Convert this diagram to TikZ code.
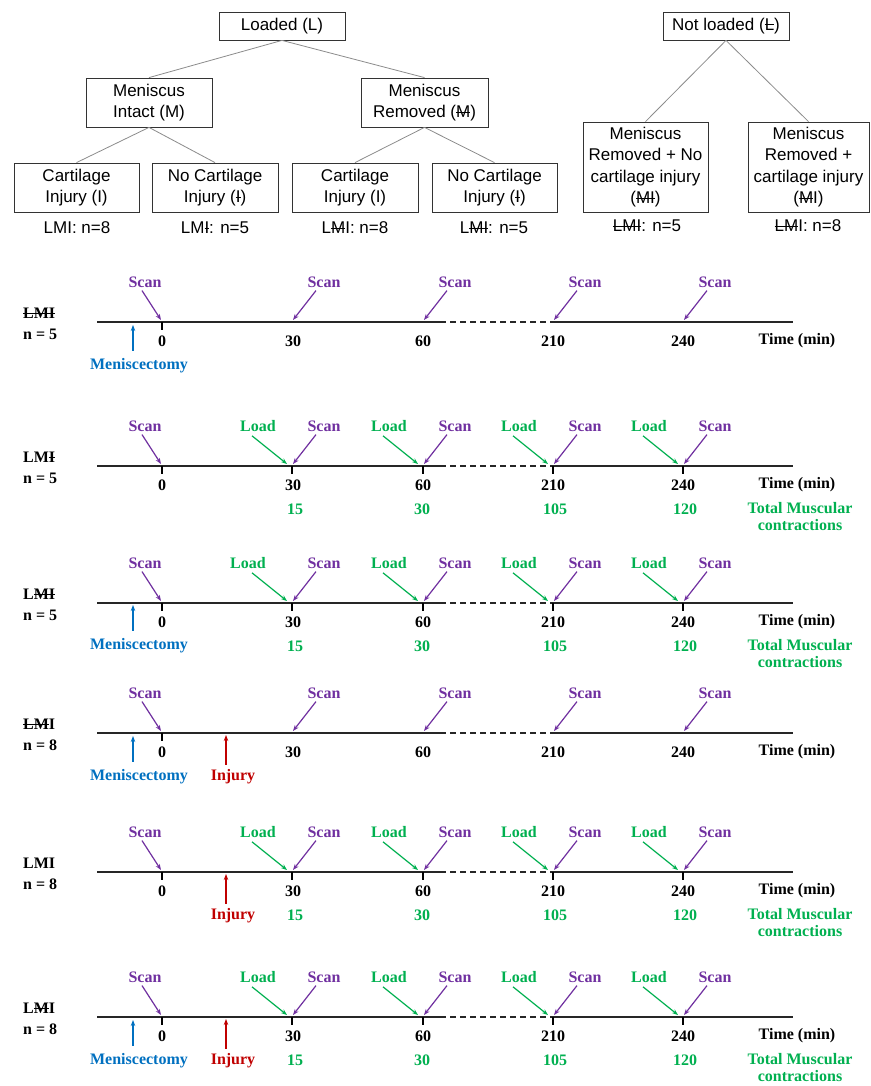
\documentclass[tikz,border=0pt]{standalone}
\usepackage{fontspec}
\setmainfont{Liberation Serif}
\newfontfamily\arialf{Liberation Sans}
\usetikzlibrary{arrows.meta}
\definecolor{scanc}{HTML}{7030A0}
\definecolor{loadc}{HTML}{00B050}
\definecolor{menc}{HTML}{0070C0}
\definecolor{injc}{HTML}{C00000}
\newsavebox\stkbox
\newcommand\stk[1]{\sbox\stkbox{#1}\rlap{\rule[0.42\ht\stkbox]{\wd\stkbox}{0.07em}}\usebox\stkbox}
\tikzset{
 tbox/.style={draw=black!80, line width=0.8pt, minimum width=126, align=center, inner sep=0pt, font=\arialf\fontsize{17}{21.5}\selectfont},
 tlab/.style={inner sep=0pt, font=\arialf\fontsize{17}{20}\selectfont},
 tedge/.style={draw=black!45, line width=0.8pt},
 tline/.style={line width=1.5pt, draw=black!85},
 tickm/.style={line width=2pt, draw=black},
 lbl/.style={inner sep=0pt, font=\bfseries\fontsize{16}{17}\selectfont},
 scanl/.style={lbl, text=scanc},
 loadl/.style={lbl, text=loadc},
 menl/.style={lbl, text=menc},
 injl/.style={lbl, text=injc},
 numl/.style={lbl, text=black},
 rowl/.style={lbl, text=black, anchor=west},
 arr/.style={line width=1.2pt, -{Stealth[length=6pt,width=4.5pt]}},
 scanarr/.style={arr, draw=scanc},
 loadarr/.style={arr, draw=loadc},
 menarr/.style={arr, draw=menc},
 injarr/.style={arr, draw=injc},
}
% base time line
\newcommand\tlbase[2]{%
 \coordinate (#1a) at (97,#2); \coordinate (#1b) at (440,#2);
 \coordinate (#1c) at (553,#2); \coordinate (#1d) at (793,#2);
 \draw[tline] (#1a) -- (#1b);
 \draw[tline, dash pattern=on 6pt off 4pt] (#1b) -- (#1c);
 \draw[tline] (#1c) -- (#1d);
 \node[numl] (#1n0) at (162,#2+19) {0};
 \node[numl] (#1n1) at (293,#2+19) {30};
 \node[numl] (#1n2) at (423,#2+19) {60};
 \node[numl] (#1n3) at (553,#2+19) {210};
 \node[numl] (#1n4) at (683,#2+19) {240};
 \node[numl] (#1tm) at (797,#2+19) {Time (min)};
 \draw[tickm] (162,#2) -- (162,#2+8);
 \node[scanl] (#1s0) at (145,#2-40) {Scan};
 \coordinate (#1s0h) at (161,#2-2);
 \draw[scanarr] ([xshift=-3pt,yshift=-3pt]#1s0.south) -- (#1s0h);
}
\newcommand\scanat[4]{%
 \node[scanl] (#1s#2) at (#3+32,#4-40) {Scan};
 \coordinate (#1s#2h) at (#3+1,#4-2);
 \draw[scanarr] ([xshift=-8pt,yshift=-3pt]#1s#2.south) -- (#1s#2h);
}
\newcommand\loadat[5]{%
 \node[loadl] (#1l#2) at (#3-34+#5,#4-40) {Load};
 \coordinate (#1l#2h) at (#3-5,#4-2);
 \draw[loadarr] ([xshift=-6pt-#5,yshift=-4pt]#1l#2.south) -- (#1l#2h);
 \draw[tickm] (#3,#4) -- (#3,#4+8);
}
\newcommand\scanrow[2]{%
 \scanat{#1}{1}{292}{#2}\scanat{#1}{2}{423}{#2}\scanat{#1}{3}{553}{#2}\scanat{#1}{4}{683}{#2}}
\newcommand\loadrow[3]{%
 \scanrow{#1}{#2}%
 \loadat{#1}{1}{292}{#2}{#3}\loadat{#1}{2}{423}{#2}{0}\loadat{#1}{3}{553}{#2}{0}\loadat{#1}{4}{683}{#2}{0}%
 \node[loadl] (#1c1) at (295,#2+43) {15};
 \node[loadl] (#1c2) at (422,#2+43) {30};
 \node[loadl] (#1c3) at (555,#2+43) {105};
 \node[loadl] (#1c4) at (685,#2+43) {120};
 \node[loadl, align=center] (#1tc) at (800,#2+51) {Total Muscular\\contractions};
}
\newcommand\menis[2]{%
 \node[menl] (#1m) at (139,#2+44) {Meniscectomy};
 \coordinate (#1mh) at (133,#2+3);
 \draw[menarr] ([xshift=-6pt,yshift=8pt]#1m.north) -- (#1mh);
}
\newcommand\injury[2]{%
 \node[injl] (#1i) at (233,#2+44) {Injury};
 \coordinate (#1ih) at (226,#2+2);
 \draw[injarr] ([xshift=-7pt,yshift=5pt]#1i.north) -- (#1ih);
}
\newcommand\rowlabel[4]{%
 \node[rowl] (#1grp) at (23,#2-9) {#3};
 \node[rowl] (#1cnt) at (23,#2+12) {n = #4};
}
\begin{document}
\begin{tikzpicture}[x=1pt,y=-1pt]
\useasboundingbox[fill=white] (0,0) rectangle (870,1086);
% ---------- tree ----------
\node[tbox, minimum height=28] (L) at (282,26) {Loaded (L)};
\node[tbox, minimum height=49] (M) at (149,102.5) {Meniscus\\Intact (M)};
\node[tbox, minimum height=49, minimum width=127] (Mr) at (424.5,102.5) {Meniscus\\Removed (\stk{M})};
\node[tbox, minimum height=49, minimum width=125] (I1) at (76.5,187.5) {Cartilage\\Injury (I)};
\node[tbox, minimum height=49] (I2) at (215,187.5) {No Cartilage\\Injury (\stk{I})};
\node[tbox, minimum height=49] (I3) at (355,187.5) {Cartilage\\Injury (I)};
\node[tbox, minimum height=49, minimum width=125] (I4) at (494.5,187.5) {No Cartilage\\Injury (\stk{I})};
\node[tbox, minimum height=28] (NL) at (726,26) {Not loaded (\stk{L})};
\node[tbox, minimum height=90, minimum width=125] (N1) at (645.5,167) {Meniscus\\Removed + No\\cartilage injury\\(\stk{MI})};
\node[tbox, minimum height=90, minimum width=121] (N2) at (808.5,167) {Meniscus\\Removed +\\cartilage injury\\(\stk{M}I)};
\draw[tedge] (L.south) -- (M.north);
\draw[tedge] (L.south) -- (Mr.north);
\draw[tedge] (M.south) -- (I1.north);
\draw[tedge] (M.south) -- (I2.north);
\draw[tedge] (Mr.south) -- (I3.north);
\draw[tedge] (Mr.south) -- (I4.north);
\draw[tedge] (NL.south) -- (N1.north);
\draw[tedge] (NL.south) -- (N2.north);
\node[tlab] (c1) at (77,228) {LMI: n=8};
\node[tlab] (c2) at (215,228) {LM\stk{I}: n=5};
\node[tlab] (c3) at (355,228) {L\stk{M}I: n=8};
\node[tlab] (c4) at (494,228) {L\stk{MI}: n=5};
\node[tlab] (c5) at (647,226) {\stk{LMI}: n=5};
\node[tlab] (c6) at (808,226) {\stk{LM}I: n=8};
% ---------- row A ----------
\tlbase{A}{322}
\scanrow{A}{322}
\menis{A}{322}
\rowlabel{A}{322}{\stk{LMI}}{5}
% ---------- row B ----------
\tlbase{B}{466}
\loadrow{B}{466}{0}
\rowlabel{B}{466}{LM\stk{I}}{5}
% ---------- row C ----------
\tlbase{C}{603}
\loadrow{C}{603}{-10}
\menis{C}{602}
\rowlabel{C}{603}{L\stk{MI}}{5}
% ---------- row D ----------
\tlbase{D}{733}
\scanrow{D}{733}
\menis{D}{733}
\injury{D}{733}
\rowlabel{D}{733}{\stk{LM}I}{8}
% ---------- row E ----------
\tlbase{E}{872}
\loadrow{E}{872}{0}
\injury{E}{872}
\rowlabel{E}{872}{LMI}{8}
% ---------- row F ----------
\tlbase{F}{1017}
\loadrow{F}{1017}{0}
\menis{F}{1017}
\injury{F}{1017}
\rowlabel{F}{1017}{L\stk{M}I}{8}
\end{tikzpicture}
\end{document}
